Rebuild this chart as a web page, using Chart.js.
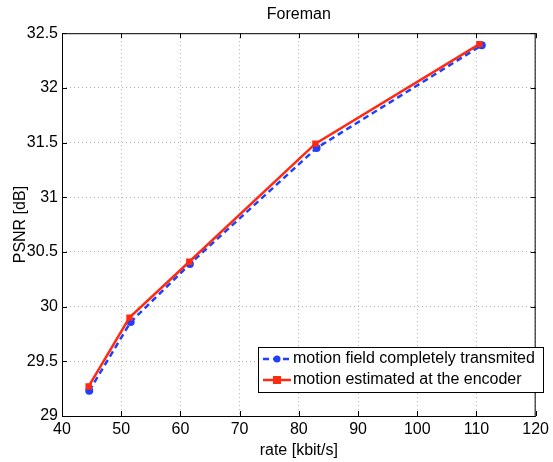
<!DOCTYPE html>
<html lang="en">
  <head>
    <meta charset="UTF-8" />
    <script src="https://cdn.jsdelivr.net/npm/chart.js@4.4.0/dist/chart.umd.min.js"></script>
    <title>Foreman</title>
    <style>
      body {
        margin: 0;
        padding: 0;
        background: white;
      }

      .container {
        width: 553px;
        height: 462px;
      }
    </style>
  </head>
  <body>
    <div class="container">
      <canvas id="chart"></canvas>
    </div>
    <script>
      const seriesNames = ['motion field completely transmited', 'motion estimated at the encoder']
      const rateField = [44.6, 51.6, 61.6, 83.0, 110.9]
      const psnrField = [29.23, 29.86, 30.39, 31.45, 32.39]
      const rateEncoder = [44.5, 51.4, 61.5, 82.8, 110.5]
      const psnrEncoder = [29.27, 29.9, 30.41, 31.49, 32.4]
      const xTicks = [40, 50, 60, 70, 80, 90, 100, 110, 120]
      const yTicks = [29, 29.5, 30, 30.5, 31, 31.5, 32, 32.5]

      const blue = '#1f3fff'
      const red = '#ff2a12'
      const font = 'Liberation Sans, Arial, sans-serif'
      const fontSize = 16

      const toPoints = (xs, ys) => xs.map((x, i) => ({ x: x, y: ys[i] }))

      // MATLAB-like box, inward ticks and legend
      const matlabFrame = {
        id: 'matlabFrame',
        afterDraw(chart) {
          const ctx = chart.ctx
          const a = chart.chartArea
          const xs = chart.scales.x
          const ys = chart.scales.y
          ctx.save()
          ctx.strokeStyle = '#000'
          ctx.lineWidth = 1
          ctx.strokeRect(a.left + 0.5, a.top + 0.5, a.right - a.left - 1, a.bottom - a.top)
          ctx.beginPath()
          xTicks.forEach((v) => {
            const px = Math.round(xs.getPixelForValue(v)) + 0.5
            ctx.moveTo(px, a.bottom)
            ctx.lineTo(px, a.bottom - 5)
            ctx.moveTo(px, a.top)
            ctx.lineTo(px, a.top + 5)
          })
          yTicks.forEach((v) => {
            const py = Math.round(ys.getPixelForValue(v)) + 0.5
            ctx.moveTo(a.left, py)
            ctx.lineTo(a.left + 5, py)
            ctx.moveTo(a.right, py)
            ctx.lineTo(a.right - 5, py)
          })
          ctx.stroke()

          // legend box
          const bx = 258, by = 347, bw = 285, bh = 45
          ctx.fillStyle = '#fff'
          ctx.fillRect(bx, by, bw, bh)
          ctx.strokeRect(bx + 0.5, by + 0.5, bw, bh)
          ctx.font = fontSize + 'px ' + font
          ctx.textBaseline = 'middle'
          const rows = [by + 12, by + 33]

          ctx.lineWidth = 2.5
          ctx.strokeStyle = blue
          ctx.setLineDash([6, 4])
          ctx.beginPath()
          ctx.moveTo(263, rows[0])
          ctx.lineTo(291, rows[0])
          ctx.stroke()
          ctx.setLineDash([])
          ctx.fillStyle = blue
          ctx.beginPath()
          ctx.arc(277, rows[0], 3.5, 0, Math.PI * 2)
          ctx.fill()

          ctx.strokeStyle = red
          ctx.beginPath()
          ctx.moveTo(263, rows[1])
          ctx.lineTo(291, rows[1])
          ctx.stroke()
          ctx.fillStyle = red
          ctx.fillRect(273, rows[1] - 4, 8, 8)

          ctx.fillStyle = '#000'
          ctx.fillText(seriesNames[0], 293, rows[0])
          ctx.fillText(seriesNames[1], 293, rows[1])
          ctx.restore()
        },
      }

      new Chart(document.getElementById('chart'), {
        type: 'scatter',
        data: {
          datasets: [
            {
              label: seriesNames[0],
              data: toPoints(rateField, psnrField),
              showLine: true,
              borderColor: blue,
              backgroundColor: blue,
              borderWidth: 2.5,
              borderDash: [6, 4],
              pointStyle: 'circle',
              pointRadius: 4,
              pointBorderWidth: 0,
              order: 2,
            },
            {
              label: seriesNames[1],
              data: toPoints(rateEncoder, psnrEncoder),
              showLine: true,
              borderColor: red,
              backgroundColor: red,
              borderWidth: 2.5,
              pointStyle: 'rect',
              pointRadius: 4.5,
              pointBorderWidth: 0,
              order: 1,
            },
          ],
        },
        options: {
          responsive: true,
          maintainAspectRatio: false,
          animation: false,
          layout: {
            padding: { left: 0, right: 14, top: 0, bottom: 0 },
          },
          plugins: {
            title: {
              display: true,
              fullSize: false,
              text: 'Foreman',
              color: '#000',
              font: { family: font, size: fontSize, weight: 'normal' },
              padding: { top: 5, bottom: 9 },
            },
            legend: { display: false },
            tooltip: { enabled: false },
          },
          scales: {
            x: {
              type: 'linear',
              min: 40,
              max: 120,
              afterFit: (s) => {
                s.height = 46
              },
              afterBuildTicks: (s) => {
                s.ticks = xTicks.map((v) => ({ value: v }))
              },
              ticks: {
                color: '#000',
                padding: 4,
                maxRotation: 0,
                font: { family: font, size: fontSize },
                callback: (v) => String(v),
              },
              grid: {
                color: '#b0b0b0',
                drawTicks: false,
              },
              border: { display: false, dash: [1, 3] },
              title: {
                display: true,
                text: 'rate [kbit/s]',
                color: '#000',
                font: { family: font, size: fontSize },
                padding: { top: 0, bottom: 2 },
              },
            },
            y: {
              type: 'linear',
              min: 29,
              max: 32.5,
              afterFit: (s) => {
                s.width = 62
              },
              afterBuildTicks: (s) => {
                s.ticks = yTicks.map((v) => ({ value: v }))
              },
              ticks: {
                color: '#000',
                padding: 4,
                font: { family: font, size: fontSize },
                callback: (v) => String(v),
              },
              grid: {
                color: '#b0b0b0',
                drawTicks: false,
              },
              border: { display: false, dash: [1, 3] },
              title: {
                display: true,
                text: 'PSNR [dB]',
                color: '#000',
                font: { family: font, size: fontSize },
                padding: { top: 11, bottom: 0 },
              },
            },
          },
        },
        plugins: [matlabFrame],
      })
    </script>
  </body>
</html>
